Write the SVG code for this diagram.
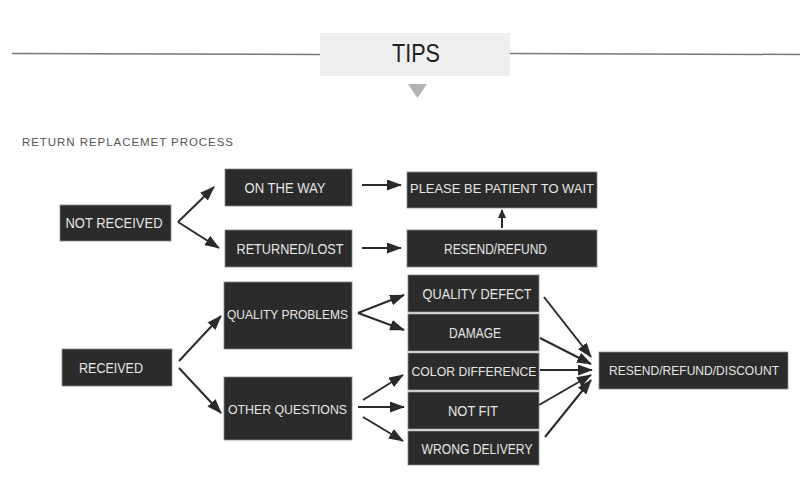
<svg xmlns="http://www.w3.org/2000/svg" width="800" height="500" viewBox="0 0 800 500">
<defs>
<style>
.box{fill:#2b2b2b;stroke:#8a8a8a;stroke-width:0.8}
.lbl{font-family:"Liberation Sans",Arial,sans-serif;font-size:14px;fill:#e6e6e6;text-anchor:middle;dominant-baseline:central}
.sm{font-size:13px}
.con{stroke:#2a2a2a;stroke-width:2;fill:none;marker-end:url(#ah)}
</style>
<marker id="ah" markerUnits="userSpaceOnUse" markerWidth="15" markerHeight="11" refX="14" refY="5.5" orient="auto">
<path d="M0,0 L15,5.5 L0,11 z" fill="#2a2a2a"/>
</marker>
<marker id="sm" markerUnits="userSpaceOnUse" markerWidth="9" markerHeight="8" refX="8" refY="4" orient="auto">
<path d="M0,0 L9,4 L0,8 z" fill="#2a2a2a"/>
</marker>
</defs>
<rect width="800" height="500" fill="#ffffff"/>
<g id="header">
<line x1="12" y1="53.5" x2="320" y2="54.5" stroke="#777" stroke-width="1.5"/>
<line x1="510" y1="53.5" x2="800" y2="54.5" stroke="#777" stroke-width="1.5"/>
<rect x="320" y="33" width="190" height="43" fill="#eeeeee"/>
<text x="416" y="53" font-family="Liberation Sans,Arial,sans-serif" font-size="26" fill="#222" text-anchor="middle" dominant-baseline="central" textLength="48" lengthAdjust="spacingAndGlyphs">TIPS</text>
<path d="M408,84 L427,84 L417.5,98 z" fill="#b3b3b3"/>
<text x="22" y="142" font-family="Liberation Sans,Arial,sans-serif" font-size="11.5" fill="#555" dominant-baseline="central" textLength="211">RETURN REPLACEMET PROCESS</text>
</g>
<g id="not-received"><rect class="box" x="60" y="205" width="111" height="36"/><text class="lbl" x="114" y="223" textLength="97" lengthAdjust="spacingAndGlyphs">NOT RECEIVED</text></g>
<g id="on-the-way"><rect class="box" x="225" y="169" width="127" height="37"/><text class="lbl" x="285" y="187.5" textLength="81" lengthAdjust="spacingAndGlyphs">ON THE WAY</text></g>
<g id="returned-lost"><rect class="box" x="225" y="230" width="127" height="37"/><text class="lbl" x="290" y="248.5" textLength="107" lengthAdjust="spacingAndGlyphs">RETURNED/LOST</text></g>
<g id="please-wait"><rect class="box" x="407" y="172" width="190" height="36"/><text class="lbl sm" x="502" y="188" textLength="184" lengthAdjust="spacingAndGlyphs">PLEASE BE PATIENT TO WAIT</text></g>
<g id="resend-refund"><rect class="box" x="407" y="230" width="190" height="37"/><text class="lbl" x="495.5" y="248.5" textLength="103" lengthAdjust="spacingAndGlyphs">RESEND/REFUND</text></g>
<g id="received"><rect class="box" x="62" y="349" width="110" height="37"/><text class="lbl" x="111" y="367.5" textLength="64" lengthAdjust="spacingAndGlyphs">RECEIVED</text></g>
<g id="quality-problems"><rect class="box" x="224" y="282" width="128" height="67"/><text class="lbl sm" x="287.5" y="314" textLength="121" lengthAdjust="spacingAndGlyphs">QUALITY PROBLEMS</text></g>
<g id="other-questions"><rect class="box" x="224" y="377" width="128" height="63"/><text class="lbl sm" x="287.5" y="409" textLength="119" lengthAdjust="spacingAndGlyphs">OTHER QUESTIONS</text></g>
<g id="quality-defect"><rect class="box" x="408" y="275" width="131" height="37"/><text class="lbl" x="477" y="293.5" textLength="109" lengthAdjust="spacingAndGlyphs">QUALITY DEFECT</text></g>
<g id="damage"><rect class="box" x="408" y="314" width="131" height="37"/><text class="lbl" x="475" y="332.5" textLength="52" lengthAdjust="spacingAndGlyphs">DAMAGE</text></g>
<g id="color-difference"><rect class="box" x="408" y="353" width="131" height="37"/><text class="lbl sm" x="474" y="371.5" textLength="125" lengthAdjust="spacingAndGlyphs">COLOR DIFFERENCE</text></g>
<g id="not-fit"><rect class="box" x="408" y="392" width="131" height="37"/><text class="lbl" x="473" y="410.5" textLength="50" lengthAdjust="spacingAndGlyphs">NOT FIT</text></g>
<g id="wrong-delivery"><rect class="box" x="408" y="431" width="131" height="34"/><text class="lbl" x="477" y="448.5" textLength="111" lengthAdjust="spacingAndGlyphs">WRONG DELIVERY</text></g>
<g id="resend-refund-discount"><rect class="box" x="599" y="352" width="189" height="37"/><text class="lbl sm" x="694" y="370.5" textLength="170" lengthAdjust="spacingAndGlyphs">RESEND/REFUND/DISCOUNT</text></g>
<g id="connectors">
<path class="con" d="M178,222 L214,187"/>
<path class="con" d="M178,222 L219,248"/>
<path class="con" d="M362,185 L401,185"/>
<path class="con" d="M362,248 L401,248"/>
<path class="con" style="marker-end:url(#sm)" d="M502,228 L502,210"/>
<path class="con" d="M179,361 L221,316"/>
<path class="con" d="M179,368 L221,413"/>
<path class="con" d="M358,313 L404,295"/>
<path class="con" d="M358,313 L404,330"/>
<path class="con" d="M363,400 L403,375"/>
<path class="con" d="M358,407 L404,407"/>
<path class="con" d="M363,417 L403,441"/>
<path class="con" d="M544,297 L591,357"/>
<path class="con" d="M540,338 L591,364"/>
<path class="con" d="M540,370 L592,370"/>
<path class="con" d="M539,405 L591,375"/>
<path class="con" d="M545,437 L591,380"/>
</g>
</svg>
